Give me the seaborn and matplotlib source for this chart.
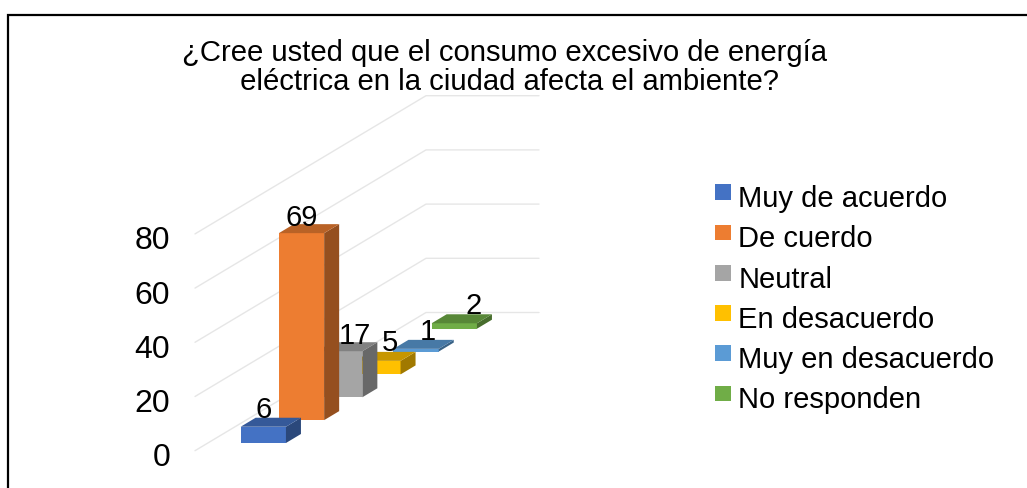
import matplotlib
matplotlib.use("Agg")
import matplotlib.pyplot as plt
from matplotlib.legend_handler import HandlerPatch
from matplotlib.lines import Line2D
from matplotlib.patches import Polygon, Rectangle
from matplotlib.transforms import ScaledTranslation
from matplotlib.colors import to_rgb
import pandas as pd
import seaborn as sns

TITLE = "¿Cree usted que el consumo excesivo de energía\n eléctrica en la ciudad afecta el ambiente?"
categories = ["Muy de acuerdo", "De cuerdo", "Neutral", "En desacuerdo", "Muy en desacuerdo", "No responden"]
values = [6, 69, 17, 5, 1, 2]
colors = ["#4472C4", "#ED7D31", "#A5A5A5", "#FFC000", "#5B9BD5", "#70AD47"]
y_ticks = [0, 20, 40, 60, 80]
label_shift_px = [(0, -3), (0, -5), (15, -5), (12, -2), (12, -3), (19, -3)]

W, H = 1027, 488
sns.set_theme(style="white")
plt.rcParams["font.family"] = ["Liberation Sans", "DejaVu Sans"]
fig = plt.figure(figsize=(W / 100, H / 100), dpi=100, facecolor="white")

# axes box in pixels
L, R, TOP, BOT = 195, 539, 95, 450.7
ax = fig.add_axes([L / W, 1 - BOT / H, (R - L) / W, (BOT - TOP) / H])
ax.patch.set_alpha(0)

STEP_X = 38.2    # px per series
PX_PER_UNIT = 2.71
STEP_Y = 22.86 / PX_PER_UNIT     # value units of rise per series
BASE0 = 7.7 / PX_PER_UNIT
DEPTH_X = 15 / STEP_X
DEPTH_Y = 9 / PX_PER_UNIT
WALL_X = 231 / STEP_X
WALL_Y = 138.2 / PX_PER_UNIT
BAR_W = 45.3 / STEP_X
FIRST_CENTER = 263.3

df = pd.DataFrame({"cat": categories, "val": values})
sns.barplot(data=df, x="cat", y="val", hue="cat", order=categories, hue_order=categories,
            palette=colors, width=BAR_W, dodge=False, legend=False, saturation=1, ax=ax,
            linewidth=0)
x0 = (L - FIRST_CENTER) / STEP_X
x1 = (R - FIRST_CENTER) / STEP_X
ax.set_xlim(x0, x1)
ax.set_ylim(0, (BOT - TOP) / PX_PER_UNIT)


def shade(c, f):
    return tuple(v * f for v in to_rgb(c))


bars = [p for p in ax.patches if p.get_height() > 0]
for i, (p, c, v) in enumerate(zip(bars, colors, values)):
    base = BASE0 + i * STEP_Y
    z = 20 - i
    p.set_y(base)
    p.set_zorder(z)
    xl, xr = p.get_x(), p.get_x() + p.get_width()
    top = base + p.get_height()
    ax.add_patch(Polygon([(xr, base), (xr + DEPTH_X, base + DEPTH_Y), (xr + DEPTH_X, top + DEPTH_Y), (xr, top)],
                         closed=True, fc=shade(c, 0.63), ec="none", zorder=z))
    ax.add_patch(Polygon([(xl, top), (xr, top), (xr + DEPTH_X, top + DEPTH_Y), (xl + DEPTH_X, top + DEPTH_Y)],
                         closed=True, fc=shade(c, 0.78), ec="none", zorder=z))
    dx, dy = label_shift_px[i]
    ax.annotate(str(v), (i, top), xytext=(dx * 0.72, (dy + 6) * 0.72), textcoords="offset points",
                ha="center", va="bottom", fontsize=21, color="black", zorder=40)

for t in y_ticks:
    ax.plot([x0, x0 + WALL_X, x1], [t, t + WALL_Y, t + WALL_Y], color="#E6E6E6", lw=1.0, zorder=1, clip_on=False)

sns.despine(ax=ax, left=True, bottom=True)
ax.set_xticks([])
ax.set_xlabel("")
ax.set_ylabel("")
ax.set_yticks(y_ticks)
ax.tick_params(axis="y", length=0, labelsize=23, pad=18, labelcolor="black")
off = ScaledTranslation(0, -2.9 / 72, fig.dpi_scale_trans)
for lab in ax.get_yticklabels():
    lab.set_transform(lab.get_transform() + off)


def swatch(legend, orig_handle, xdescent, ydescent, width, height, fontsize):
    return Rectangle((-xdescent, -ydescent + 3.2), width, height)


handles = [Rectangle((0, 0), 1, 1, fc=c, ec="none") for c in colors]
fig.legend(handles, categories, loc="upper left", bbox_to_anchor=(715 / W, 1 - 185 / H), frameon=False,
           fontsize=21, handlelength=0.55, handleheight=0.45, handletextpad=0.25, labelspacing=0.42,
           borderpad=0, borderaxespad=0, labelcolor="black",
           handler_map={Rectangle: HandlerPatch(patch_func=swatch)})

fig.text(505 / W, 1 - 67.5 / H, TITLE, ha="center", va="center", fontsize=21.1, color="black", linespacing=1.04)

# frame: only the top and left edges show in the crop
fig.add_artist(Line2D([7.5 / W, 7.5 / W, 1], [0, 1 - 14.5 / H, 1 - 14.5 / H], transform=fig.transFigure,
                      color="black", lw=1.6, solid_joinstyle="miter"))

fig.savefig("out.png", dpi=100)
